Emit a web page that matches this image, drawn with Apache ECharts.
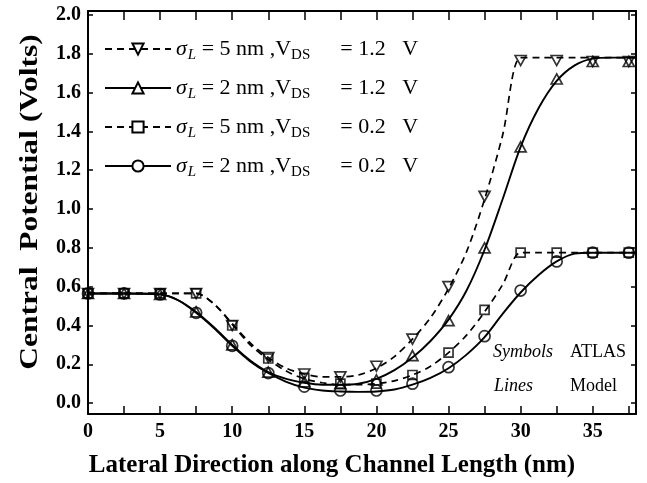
<!DOCTYPE html>
<html>
<head>
<meta charset="utf-8">
<script src="https://cdn.jsdelivr.net/npm/echarts@6/dist/echarts.min.js"></script>
<style>
  html, body { margin: 0; padding: 0; background: #fff; }
  #chart { width: 647px; height: 483px; }
</style>
</head>
<body>
<div id="chart"></div>
<script>
// Positions along the channel (nm) where the ATLAS device simulation was sampled
const atlasX = [0, 2.5, 5, 7.5, 10, 12.5, 15, 17.5, 20, 22.5, 25, 27.5, 30, 32.5, 35, 37.5];

// ATLAS central potential (V)
const atlasS5V12 = [0.565, 0.565, 0.565, 0.565, 0.40, 0.235, 0.15, 0.135, 0.19, 0.33, 0.60, 1.065, 1.765, 1.765, 1.76, 1.76];
const atlasS2V12 = [0.565, 0.565, 0.56, 0.47, 0.30, 0.16, 0.11, 0.10, 0.12, 0.245, 0.425, 0.80, 1.32, 1.67, 1.76, 1.76];
const atlasS5V02 = [0.565, 0.565, 0.565, 0.565, 0.40, 0.23, 0.13, 0.10, 0.10, 0.145, 0.26, 0.48, 0.775, 0.775, 0.775, 0.775];
const atlasS2V02 = [0.565, 0.565, 0.56, 0.465, 0.295, 0.155, 0.085, 0.065, 0.065, 0.10, 0.185, 0.345, 0.58, 0.73, 0.775, 0.775];

// Positions where the analytical model curves are tabulated (nm)
const modelX = [0, 2.5, 5, 6.25, 7.5, 8.75, 10, 11.25, 12.5, 13.75, 15, 16.25, 17.5, 18.75, 20,
                21.25, 22.5, 23.75, 25, 26.25, 27.5, 28.75, 30, 31.25, 32.5, 33.75, 35, 36.25, 38];

// Model central potential (V)
const modelS5V12 = [0.565, 0.565, 0.565, 0.565, 0.565, 0.51, 0.41, 0.31, 0.235, 0.18, 0.15, 0.135, 0.135, 0.145, 0.18,
                    0.24, 0.33, 0.44, 0.59, 0.78, 1.05, 1.38, 1.78, 1.78, 1.78, 1.78, 1.78, 1.78, 1.78];
const modelS2V12 = [0.565, 0.565, 0.56, 0.53, 0.47, 0.39, 0.30, 0.22, 0.16, 0.125, 0.105, 0.095, 0.095, 0.10, 0.125,
                    0.17, 0.235, 0.32, 0.43, 0.58, 0.79, 1.05, 1.32, 1.52, 1.66, 1.74, 1.775, 1.78, 1.78];
const modelS5V02 = [0.565, 0.565, 0.565, 0.565, 0.565, 0.51, 0.405, 0.30, 0.225, 0.165, 0.125, 0.105, 0.095, 0.095, 0.10,
                    0.115, 0.145, 0.19, 0.26, 0.35, 0.47, 0.61, 0.775, 0.775, 0.775, 0.775, 0.775, 0.775, 0.775];
const modelS2V02 = [0.565, 0.565, 0.56, 0.53, 0.465, 0.385, 0.295, 0.215, 0.155, 0.11, 0.08, 0.065, 0.06, 0.058, 0.06,
                    0.07, 0.095, 0.13, 0.18, 0.25, 0.34, 0.46, 0.57, 0.66, 0.73, 0.77, 0.775, 0.775, 0.775];

// Legend parameters: doping gradient sigma_L (nm) and drain bias (V)
const legendSigma = ['5', '2', '5', '2'];
const legendVds = ['1.2', '1.2', '0.2', '0.2'];
const seriesNames = ['s5v12', 's2v12', 's5v02', 's2v02'];

// Axis tick values
const xLabelTicks = [0, 5, 10, 15, 20, 25, 30, 35];
const xMinorTicks = [0, 2.5, 5, 7.5, 10, 12.5, 15, 17.5, 20, 22.5, 25, 27.5, 30, 32.5, 35, 37.5];
const yTicks = [0, 0.2, 0.4, 0.6, 0.8, 1.0, 1.2, 1.4, 1.6, 1.8, 2.0];

const SERIF = '"Liberation Serif", "DejaVu Serif", serif';
const downTri = 'path://M0,0 L12,0 L6,11 Z';
const upTri = 'path://M6,0 L12,11 L0,11 Z';

const styles = [
  { symbol: downTri, dashed: true, size: [11, 10] },
  { symbol: upTri, dashed: false, size: [11, 10] },
  { symbol: 'rect', dashed: true, size: 9 },
  { symbol: 'circle', dashed: false, size: 11 }
];

const pair = (xs, ys) => xs.map((x, i) => [x, ys[i]]);
const modelSets = [modelS5V12, modelS2V12, modelS5V02, modelS2V02];
const atlasSets = [atlasS5V12, atlasS2V12, atlasS5V02, atlasS2V02];

const series = [];
modelSets.forEach((ys, i) => {
  const st = styles[i];
  series.push({
    name: seriesNames[i],
    type: 'line',
    data: pair(modelX, ys),
    smooth: 0.3,
    showSymbol: false,
    symbol: st.symbol,
    symbolSize: st.size,
    lineStyle: { color: '#000', width: st.dashed ? 1.7 : 1.9, type: st.dashed ? [7, 5] : 'solid' },
    itemStyle: { color: '#fff', borderColor: '#000', borderWidth: 1.6 },
    z: 2,
    silent: true
  });
});
atlasSets.forEach((ys, i) => {
  const st = styles[i];
  series.push({
    name: 'atlas-' + seriesNames[i],
    type: 'scatter',
    data: pair(atlasX, ys),
    symbol: st.symbol,
    symbolSize: st.size,
    itemStyle: { color: 'rgba(255,255,255,0)', borderColor: '#000', borderWidth: 1.7 },
    z: 3,
    silent: true
  });
});

const chart = echarts.init(document.getElementById('chart'), null, { renderer: 'canvas' });

const axisLineStyle = { show: true, onZero: false, lineStyle: { color: '#000', width: 2 } };
const tickStyle = { color: '#000', width: 1.5 };

chart.setOption({
  animation: false,
  backgroundColor: '#fff',
  grid: { left: 88, right: 11, top: 11, bottom: 67, containLabel: false },
  legend: {
    data: seriesNames,
    orient: 'vertical',
    left: 99,
    top: 33,
    itemWidth: 66,
    itemHeight: 14,
    itemGap: 14,
    itemTextGap: 15,
    selectedMode: false,
    formatter: name => {
      const i = seriesNames.indexOf(name);
      return '{s|σ}{sub|L}{t| = ' + legendSigma[i] + ' nm ,V}{sub2|DS}{gap| }{t|= ' + legendVds[i] + '   V}';
    },
    textStyle: {
      color: '#000',
      fontFamily: SERIF,
      rich: {
        s: { fontFamily: SERIF, fontStyle: 'italic', fontSize: 22, color: '#000' },
        sub: { fontFamily: SERIF, fontStyle: 'italic', fontSize: 15, color: '#000', padding: [13, 0, 0, 1] },
        t: { fontFamily: SERIF, fontSize: 22, color: '#000' },
        sub2: { fontFamily: SERIF, fontSize: 15, color: '#000', padding: [13, 0, 0, 0] },
        gap: { fontSize: 22, width: 30 }
      }
    }
  },
  xAxis: [
    {
      type: 'value', min: 0, max: 38, position: 'bottom',
      name: 'Lateral Direction along Channel Length (nm)',
      nameLocation: 'middle', nameGap: 39,
      nameTextStyle: { fontFamily: SERIF, fontWeight: 'bold', fontSize: 25, color: '#000', padding: [0, 60, 0, 0] },
      axisLine: axisLineStyle,
      axisTick: { show: true, inside: true, length: 8, lineStyle: tickStyle, customValues: xMinorTicks },
      axisLabel: { show: true, customValues: xLabelTicks, margin: 8, fontFamily: SERIF, fontWeight: 'bold', fontSize: 20, color: '#000' },
      splitLine: { show: false }
    },
    {
      type: 'value', min: 0, max: 38, position: 'top',
      axisLine: axisLineStyle,
      axisTick: { show: true, inside: true, length: 9, lineStyle: tickStyle, customValues: xMinorTicks },
      axisLabel: { show: false },
      splitLine: { show: false }
    }
  ],
  yAxis: [
    {
      type: 'value', min: -0.056, max: 2.02, position: 'left',
      axisLine: axisLineStyle,
      axisTick: { show: true, inside: true, length: 5, lineStyle: tickStyle, customValues: yTicks },
      axisLabel: { show: true, customValues: yTicks, margin: 7, formatter: v => v.toFixed(1),
                   fontFamily: SERIF, fontWeight: 'bold', fontSize: 20, color: '#000' },
      splitLine: { show: false }
    },
    {
      type: 'value', min: -0.056, max: 2.02, position: 'right',
      axisLine: axisLineStyle,
      axisTick: { show: true, inside: true, length: 5, lineStyle: tickStyle, customValues: yTicks },
      axisLabel: { show: false },
      splitLine: { show: false }
    }
  ],
  graphic: [
    // vertical axis title, drawn with a slightly widened typeface
    { type: 'text', x: 31, y: 202, rotation: Math.PI / 2, scaleX: 1.26,
      style: { text: 'Central  Potential (Volts)', fontFamily: SERIF, fontWeight: 'bold', fontSize: 25,
               fill: '#000', align: 'center', verticalAlign: 'middle' } },
    { type: 'text', left: 493, top: 343, style: { text: 'Symbols', fontFamily: SERIF, fontStyle: 'italic', fontSize: 18, fill: '#000' } },
    { type: 'text', left: 570, top: 343, style: { text: 'ATLAS', fontFamily: SERIF, fontSize: 18, fill: '#000' } },
    { type: 'text', left: 494, top: 377, style: { text: 'Lines', fontFamily: SERIF, fontStyle: 'italic', fontSize: 18, fill: '#000' } },
    { type: 'text', left: 570, top: 377, style: { text: 'Model', fontFamily: SERIF, fontSize: 18, fill: '#000' } }
  ],
  series: series
});
</script>
</body>
</html>
